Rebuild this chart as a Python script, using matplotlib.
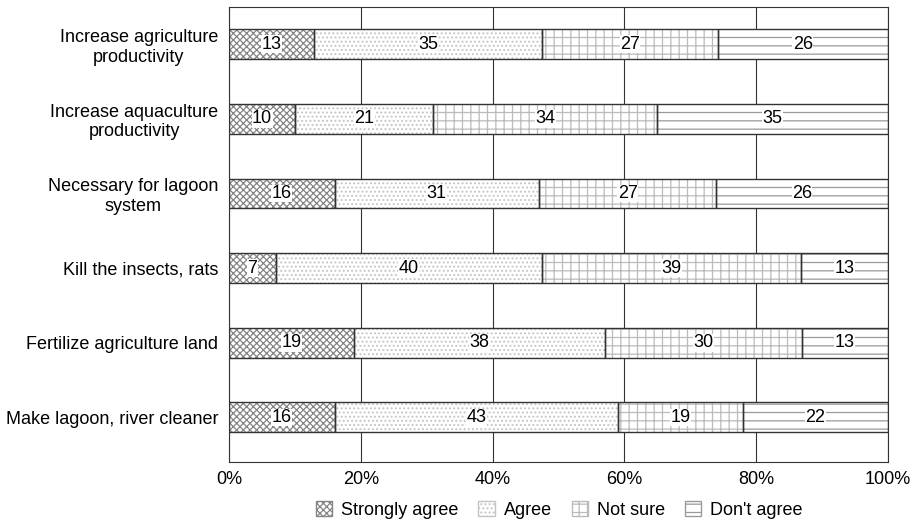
import matplotlib
matplotlib.use("Agg")
import matplotlib.pyplot as plt
import numpy as np
from matplotlib.patches import Patch
from matplotlib.ticker import PercentFormatter

plt.rcParams['font.family'] = ['Liberation Sans', 'DejaVu Sans']
plt.rcParams['hatch.linewidth'] = 0.9

categories = ['Increase agriculture\nproductivity',
              'Increase aquaculture\nproductivity',
              'Necessary for lagoon\nsystem',
              'Kill the insects, rats',
              'Fertilize agriculture land',
              'Make lagoon, river cleaner']
strongly_agree = [13, 10, 16, 7, 19, 16]
agree = [35, 21, 31, 40, 38, 43]
not_sure = [27, 34, 27, 39, 30, 19]
dont_agree = [26, 35, 26, 13, 13, 22]

series = [('Strongly agree', strongly_agree, 'xxxxx', '#858585'),
          ('Agree', agree, '....', '#c4c4c4'),
          ('Not sure', not_sure, '++', '#bbbbbb'),
          ("Don't agree", dont_agree, '--', '#9a9a9a')]

totals = np.array(strongly_agree) + np.array(agree) + np.array(not_sure) + np.array(dont_agree)

fig, ax = plt.subplots(figsize=(9.17, 5.27), dpi=100)
fig.subplots_adjust(left=0.25, right=0.968, top=0.987, bottom=0.123)

y = np.arange(len(categories))
left = np.zeros(len(categories))
handles = []
for name, vals, hatch, hc in series:
    pct = np.array(vals) / totals * 100
    ax.barh(y, pct, left=left, height=0.4, color='white', edgecolor=hc,
            hatch=hatch, linewidth=0, zorder=2)
    ax.barh(y, pct, left=left, height=0.4, color='none', edgecolor='#333333',
            linewidth=1.0, zorder=3)
    for yi, l, p, v in zip(y, left, pct, vals):
        ax.text(l + p / 2, yi, str(v), ha='center', va='center', fontsize=13,
                zorder=4, bbox=dict(facecolor='white', edgecolor='none', pad=0.3))
    left += pct
    handles.append(Patch(facecolor='white', edgecolor=hc, hatch=hatch, label=name))

ax.set_xlim(0, 100)
ax.set_ylim(5.6, -0.5)
ax.set_yticks(y)
ax.set_yticklabels(categories, fontsize=13, multialignment='center')
ax.set_xticks([0, 20, 40, 60, 80, 100])
ax.xaxis.set_major_formatter(PercentFormatter(decimals=0))
ax.tick_params(axis='x', labelsize=13, length=0, pad=6)
ax.tick_params(axis='y', length=0, pad=8)
ax.grid(axis='x', color='#333333', linewidth=0.8, zorder=0)
ax.set_axisbelow(True)
for s in ax.spines.values():
    s.set_color('#333333')
    s.set_linewidth(0.8)

fig.legend(handles=handles, loc='lower center', ncol=4, frameon=False,
           fontsize=13, bbox_to_anchor=(0.61, -0.015), handlelength=0.9,
           handleheight=0.9, handletextpad=0.5, columnspacing=1.1)

fig.savefig('out.png', dpi=100)
